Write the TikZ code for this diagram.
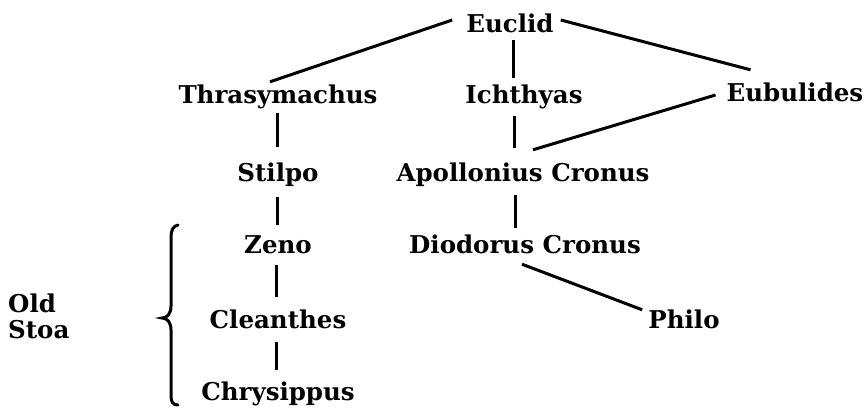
\documentclass[tikz,border=0pt]{standalone}
\usepackage{fontspec}
\setmainfont{DejaVu Serif}
\begin{document}
\begin{tikzpicture}[x=1pt,y=1pt,
  person/.style={anchor=base,inner sep=0pt,text height=20pt,text depth=6pt,
    font=\fontsize{24.5}{29}\selectfont\bfseries},
  grouptag/.style={anchor=base west,inner sep=0pt,
    font=\fontsize{24.5}{29}\selectfont\bfseries},
  link/.style={line width=3pt},
  bracket/.style={line width=3pt,line cap=round}]
\useasboundingbox (0,0) rectangle (866,410);

% people
\node[person] (euclid)  at (510,377) {Euclid};
\node[person] (thras)   at (278,306) {Thrasymachus};
\node[person] (ichth)   at (524,306) {Ichthyas};
\node[person] (eubul)   at (795,308) {Eubulides};
\node[person] (stilpo)  at (278,229) {Stilpo};
\node[person] (apoll)   at (523,229) {Apollonius Cronus};
\node[person] (zeno)    at (278,157) {Zeno};
\node[person] (diod)    at (525,157) {Diodorus Cronus};
\node[person] (clean)   at (278,82)  {Cleanthes};
\node[person] (philo)   at (684,82)  {Philo};
\node[person] (chrys)   at (278,10)  {Chrysippus};

% group label
\node[grouptag] (old)  at (8,98) {Old};
\node[grouptag] (stoa) at (8,72) {Stoa};

% slanted connectors
\draw[link] ([shift={(-14pt,6pt)}]euclid.west) -- ([shift={(-8pt,2pt)}]thras.north);
\draw[link] ([shift={(7pt,6pt)}]euclid.east) -- ([shift={(24pt,12pt)}]eubul.north west);
\draw[link] ([shift={(-11pt,0pt)}]eubul.west) -- ([shift={(10pt,11pt)}]apoll.north);
\draw[link] ([shift={(-3pt,-5pt)}]diod.south) -- ([shift={(-6pt,-2pt)}]philo.north west);

% vertical connectors
\draw[link,shorten <=1pt,shorten >=6pt]
  ([xshift=3pt]euclid.south) -- ([xshift=3pt]euclid.south |- ichth.north);
\draw[link,shorten <=6pt,shorten >=13pt]
  ([xshift=-10pt]ichth.south) -- ([xshift=-10pt]ichth.south |- apoll.north);
\draw[link,shorten <=8pt,shorten >=5pt]
  ([xshift=-8pt]apoll.south) -- ([xshift=-8pt]apoll.south |- diod.north);
\draw[link,shorten <=3pt,shorten >=14pt]
  ([xshift=-1pt]thras.south) -- ([xshift=-1pt]thras.south |- stilpo.north);
\draw[link,shorten <=10pt,shorten >=8pt]
  ([xshift=-1pt]stilpo.south) -- ([xshift=-1pt]stilpo.south |- zeno.north);
\draw[link,shorten <=6pt,shorten >=11pt]
  ([xshift=-2pt]zeno.south) -- ([xshift=-2pt]zeno.south |- clean.north);
\draw[link,shorten <=8pt,shorten >=10pt]
  ([xshift=-2pt]clean.south) -- ([xshift=-2pt]clean.south |- chrys.north);

% curly bracket grouping Zeno, Cleanthes and Chrysippus
\draw[bracket] (178,185) .. controls (173,184) and (171,180) .. (171,172)
  -- (171,104) .. controls (171,96) and (167,92) .. (162,92)
  .. controls (167,92) and (171,88) .. (171,80)
  -- (171,14) .. controls (171,8) and (173,5) .. (178,5);
\end{tikzpicture}
\end{document}
